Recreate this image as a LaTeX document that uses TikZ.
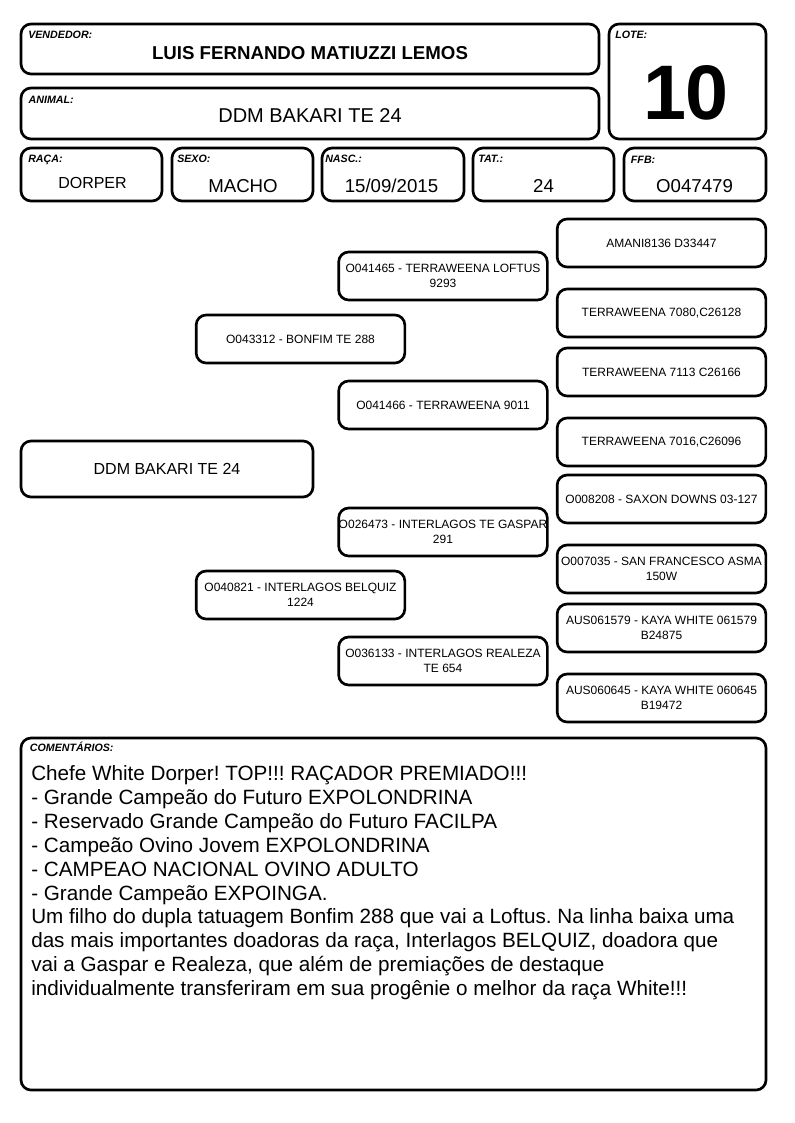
\documentclass[tikz,border=0pt]{standalone}
\usepackage{fontspec}
\setmainfont{Liberation Sans}
\frenchspacing
\begin{document}
\begin{tikzpicture}[x=0.75pt,y=-0.75pt,
  box/.style={draw,line width=2pt,rounded corners=7.5pt,inner sep=0pt,align=center},
  ped/.style={box,minimum width=156.5pt,minimum height=36pt,font=\fontsize{9}{11.25}\selectfont},
  lbl/.style={anchor=base west,inner sep=0pt,font=\fontsize{8}{9}\selectfont\bfseries\itshape},
  val/.style={inner sep=0pt,font=\fontsize{14}{16}\selectfont}]
\path[use as bounding box] (0,0) rectangle (794,1123);

% header
\node[box,minimum width=433.5pt,minimum height=37.5pt] (vend) at (310,49) {};
\node[lbl] (vendl) at (28,38.7) {VENDEDOR:};
\node[val,font=\fontsize{14}{16}\selectfont\bfseries] (vendv) at (310,53) {LUIS FERNANDO MATIUZZI LEMOS};

\node[box,minimum width=117.75pt,minimum height=86.25pt] (lote) at (687.5,81.5) {};
\node[lbl] (lotel) at (615,38.3) {LOTE:};
\node[inner sep=0pt,font=\fontsize{58}{60}\selectfont\bfseries] (lotev) at (686,93) {10};

\node[box,minimum width=433.5pt,minimum height=38.25pt] (anim) at (310,113.5) {};
\node[lbl] (animl) at (28.4,103.3) {ANIMAL:};
\node[val,font=\fontsize{15}{17}\selectfont] (animv) at (310,116) {DDM BAKARI TE 24};

\node[box,minimum width=105.75pt,minimum height=39.75pt] (raca) at (91.5,174.5) {};
\node[lbl] (racal) at (28,162.7) {RAÇA:};
\node[val,font=\fontsize{12}{14}\selectfont] (racav) at (92.5,182.5) {DORPER};

\node[box,minimum width=105.75pt,minimum height=39.75pt] (sexo) at (242.5,174.5) {};
\node[lbl] (sexol) at (177,163) {SEXO:};
\node[val] (sexov) at (243,186) {MACHO};

\node[box,minimum width=106.5pt,minimum height=39.75pt] (nasc) at (393,174.5) {};
\node[lbl] (nascl) at (325,163) {NASC.:};
\node[val] (nascv) at (391.5,186) {15/09/2015};

\node[box,minimum width=105.75pt,minimum height=39.75pt] (tat) at (543.5,174.5) {};
\node[lbl] (tatl) at (478,163) {TAT.:};
\node[val] (tatv) at (543.5,186) {24};

\node[box,minimum width=106.5pt,minimum height=39.75pt] (ffb) at (695,174.5) {};
\node[lbl] (ffbl) at (630.7,163.5) {FFB:};
\node[val] (ffbv) at (694.5,186) {O047479};

% pedigree
\node[box,minimum width=219pt,minimum height=42pt,font=\fontsize{12}{14}\selectfont] (main) at (167,469) {DDM BAKARI TE 24};

\node[ped] (p1) at (300.5,339) {O043312 - BONFIM TE 288};
\node[ped] (p2) at (300.5,595) {O040821 - INTERLAGOS BELQUIZ\\1224};

\node[ped] (g1) at (443,276) {O041465 - TERRAWEENA LOFTUS\\9293};
\node[ped] (g2) at (443,405) {O041466 - TERRAWEENA 9011};
\node[ped] (g3) at (443,532) {O026473 - INTERLAGOS TE GASPAR\\291};
\node[ped] (g4) at (443,661) {O036133 - INTERLAGOS REALEZA\\TE 654};

\node[ped] (gg1) at (661.5,243) {AMANI8136 D33447};
\node[ped] (gg2) at (661.5,313) {TERRAWEENA 7080,C26128};
\node[ped] (gg3) at (661.5,372) {TERRAWEENA 7113 C26166};
\node[ped] (gg4) at (661.5,442) {TERRAWEENA 7016,C26096};
\node[ped] (gg5) at (661.5,499) {O008208 - SAXON DOWNS 03-127};
\node[ped] (gg6) at (661.5,569) {O007035 - SAN FRANCESCO ASMA\\150W};
\node[ped] (gg7) at (661.5,628) {AUS061579 - KAYA WHITE 061579\\B24875};
\node[ped] (gg8) at (661.5,698) {AUS060645 - KAYA WHITE 060645\\B19472};

% comments
\node[box,minimum width=558.75pt,minimum height=264pt] (com) at (393.5,914) {};
\node[lbl] (coml) at (29.7,751.7) {COMENTÁRIOS:};
\node[anchor=north west,inner sep=0pt,align=left,font=\fontsize{15.5}{17.9}\selectfont] (comtxt) at (31,765.5)
{Chefe White Dorper! TOP!!! RAÇADOR PREMIADO!!!\\
- Grande Campeão do Futuro EXPOLONDRINA\\
- Reservado Grande Campeão do Futuro FACILPA\\
- Campeão Ovino Jovem EXPOLONDRINA\\
- CAMPEAO NACIONAL OVINO ADULTO\\
- Grande Campeão EXPOINGA.\\
Um filho do dupla tatuagem Bonfim 288 que vai a Loftus. Na linha baixa uma\\
das mais importantes doadoras da raça, Interlagos BELQUIZ, doadora que\\
vai a Gaspar e Realeza, que além de premiações de destaque\\
individualmente transferiram em sua progênie o melhor da raça White!!!};
\end{tikzpicture}
\end{document}
